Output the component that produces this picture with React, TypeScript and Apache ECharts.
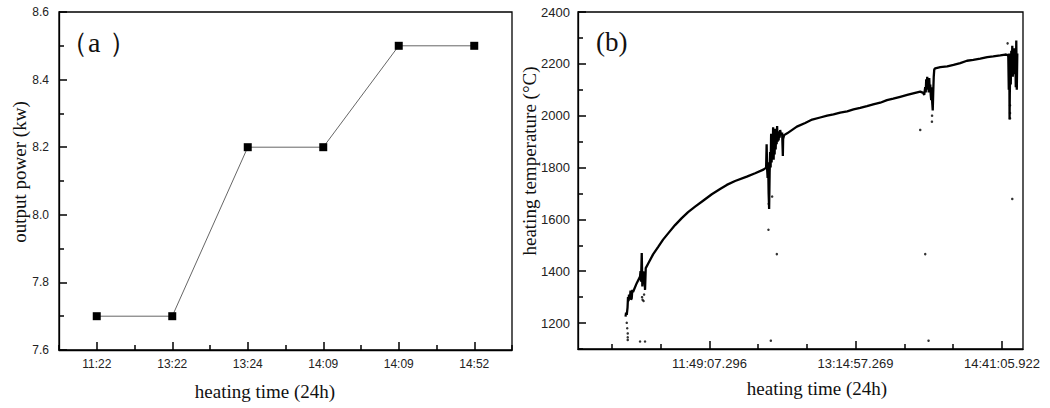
import React, { useEffect, useRef } from "react";
import * as echarts from "echarts";

// ---- panel (a): output power ----
const powerTimes = ["11:22", "13:22", "13:24", "14:09", "14:09", "14:52"];
const powerValues = [7.7, 7.7, 8.2, 8.2, 8.5, 8.5];

// ---- panel (b): heating temperature, time in seconds since midnight ----
const tempTimes = [
  39591, 39609, 39633, 39661, 39678, 39696, 39714, 39749, 39767, 39784, 39809, 39830, 39855, 39985,
  40102, 40120, 40137, 40162, 40183, 40208, 40226, 40254, 40278, 40303, 40395, 40561, 40748, 40914,
  41101, 41337, 41573, 41796, 42043, 42325, 42632, 42925, 43161, 43454, 43867, 44160, 44453, 44548,
  44566, 44584, 44601, 44619, 44637, 44654, 44672, 44689, 44707, 44725, 44742, 44760, 44778, 44795,
  44813, 44831, 44848, 44866, 44884, 44901, 44919, 44936, 44954, 44972, 44989, 45007, 45025, 45042,
  45078, 45113, 45138, 45148, 45183,
  45290, 45632, 45925, 46172, 46454, 46701, 46924, 47160, 47407, 47630, 47866, 48103, 48325, 48572,
  48809, 49031, 49277, 49524, 49736, 49983, 50089, 50124,
  50159, 50177, 50194, 50212, 50230, 50247, 50265, 50283, 50300, 50318, 50336, 50353, 50371, 50389,
  50406, 50424, 50441, 50459, 50477, 50512,
  50689, 50936, 51158, 51394, 51631, 51853, 52100, 52347, 52558, 52806, 52982, 53053, 53088,
  53106, 53123, 53134, 53141, 53159, 53176, 53194, 53212, 53229, 53247, 53265, 53282, 53300, 53318,
  53335, 53353, 53370, 53388, 53406,
];
const tempValues = [
  1225, 1240, 1232, 1260, 1300, 1285, 1310, 1300, 1325, 1290, 1296, 1328, 1320, 1354,
  1380, 1400, 1360, 1470, 1341, 1400, 1350, 1399, 1328, 1412, 1431, 1465, 1495, 1522,
  1547, 1578, 1605, 1628, 1649, 1672, 1697, 1717, 1733, 1748, 1765, 1778, 1792, 1800,
  1890, 1795, 1760, 1820, 1700, 1640, 1780, 1860, 1800, 1930, 1820, 1900, 1840, 1955,
  1830, 1920, 1850, 1950, 1870, 1930, 1890, 1960, 1900, 1940, 1905, 1935, 1915, 1945,
  1925, 1935, 1845, 1910, 1925,
  1932, 1958, 1972, 1985, 1993, 2000, 2005, 2012, 2017, 2024, 2030, 2037, 2044, 2050,
  2060, 2066, 2073, 2080, 2086, 2093, 2088, 2080,
  2110, 2090, 2140, 2100, 2150, 2110, 2130, 2090, 2145, 2100, 2120, 2080, 2060, 2110,
  2050, 2020, 2090, 2150, 2178, 2183,
  2187, 2190, 2196, 2203, 2212, 2215, 2220, 2226, 2229, 2233, 2236, 2235, 2230,
  2100, 2240, 1985, 2080, 2200, 2120, 2250, 2170, 2270, 2150, 2240, 2190, 2260, 2160,
  2250, 2110, 2290, 2100, 2240,
];
// isolated stray readings
const dotTimes = [
  39633, 39650, 39668, 39668, 39668, 40102, 40278, 40173, 40190, 40244, 40226, 44630, 44640,
  44926, 44714, 44760, 50159, 50276, 49983, 50395, 50400, 53229, 53064, 53150, 53150, 53150,
];
const dotValues = [
  1201, 1180, 1160, 1145, 1135, 1129, 1129, 1300, 1290, 1310, 1285, 1560, 1660,
  1466, 1132, 1688, 1466, 1132, 1945, 1977, 2000, 1679, 2279, 2040, 2010, 1990,
];

// axis tick values
const tempXMajor = [42547.296, 47697.269, 52865.922];
const tempXMinor = [39114, 40831, 44264, 45981, 49420, 51143];
const tempYMajor = [1200, 1400, 1600, 1800, 2000, 2200, 2400];
const tempYMinor = [1100, 1300, 1500, 1700, 1900, 2100, 2300];

const SANS = "'Liberation Sans', Arial, sans-serif";
const SERIF = "'Liberation Serif', 'Times New Roman', serif";
const TICK_COLOR = "#000";

function fmtTime(v: number): string {
  const ms = Math.round(v * 1000);
  const h = Math.floor(ms / 3600000);
  const m = Math.floor((ms % 3600000) / 60000);
  const s = (ms % 60000) / 1000;
  const pad = (n: number) => (n < 10 ? "0" : "") + n;
  const ss = s.toFixed(3);
  return `${h}:${pad(m)}:${s < 10 ? "0" + ss : ss}`;
}

const lineSt = () => ({ show: true, lineStyle: { color: "#000", width: 1.3 } });
const tickSt = () => ({ color: TICK_COLOR, width: 1.5 });
const hiddenAxis = (type: string, gridIndex: number, extra: any = {}) => ({
  type, gridIndex, show: true,
  axisLine: { show: false }, axisTick: { show: false }, axisLabel: { show: false }, splitLine: { show: false },
  ...extra,
});

function titleText(text: string, x: number, y: number, rotate: boolean): any {
  return {
    type: "text", x, y, rotation: rotate ? Math.PI / 2 : 0,
    style: {
      text, font: `19px ${SERIF}`, fill: "#111",
      textAlign: "center", textVerticalAlign: "middle", align: "center", verticalAlign: "middle",
    },
  };
}

function buildOption(): any {
  const tempData = tempTimes.map((t, i) => [t, tempValues[i]]);
  const dotData = dotTimes.map((t, i) => [t, dotValues[i]]);
  const gridA = { left: 59, top: 12, width: 453, height: 338 };
  const gridB = { left: 578, top: 12, width: 445, height: 337 };
  return {
    animation: false,
    backgroundColor: "#fff",
    grid: [
      { ...gridA, show: true, borderColor: "#000", borderWidth: 1.3 },
      { ...gridB, show: true, borderColor: "#000", borderWidth: 1.3 },
      { ...gridA, show: false },
      { ...gridB, show: false },
    ],
    xAxis: [
      {
        type: "category", gridIndex: 0, data: powerTimes, boundaryGap: true,
        axisLine: lineSt(),
        axisTick: { show: true, inside: true, length: 8, alignWithLabel: true, lineStyle: tickSt() },
        axisLabel: { fontFamily: SANS, fontSize: 12, color: "#222", margin: 8 },
        splitLine: { show: false },
      },
      {
        type: "value", gridIndex: 1, min: 37914, max: 53607,
        axisLine: lineSt(),
        axisTick: { show: true, inside: true, length: 8, customValues: tempXMajor, lineStyle: tickSt() },
        axisLabel: { customValues: tempXMajor, formatter: fmtTime, fontFamily: SANS, fontSize: 13, color: "#222", margin: 8 },
        splitLine: { show: false },
      },
      {
        type: "category", gridIndex: 2, data: powerTimes, boundaryGap: true,
        axisLine: { show: false },
        axisTick: { show: true, inside: true, length: 5, lineStyle: tickSt() },
        axisLabel: { show: false }, splitLine: { show: false },
      },
      {
        type: "value", gridIndex: 3, min: 37914, max: 53607,
        axisLine: { show: false },
        axisTick: { show: true, inside: true, length: 5, customValues: tempXMinor, lineStyle: tickSt() },
        axisLabel: { show: false }, splitLine: { show: false },
      },
    ],
    yAxis: [
      {
        type: "value", gridIndex: 0, min: 7.6, max: 8.6, interval: 0.2,
        axisLine: lineSt(),
        axisTick: { show: true, inside: true, length: 8, lineStyle: tickSt() },
        minorTick: { show: true, splitNumber: 2, length: 5, lineStyle: tickSt() },
        axisLabel: { formatter: (v: number) => v.toFixed(1), fontFamily: SANS, fontSize: 12, color: "#222", margin: 10 },
        splitLine: { show: false },
      },
      {
        type: "value", gridIndex: 1, min: 1100, max: 2400,
        axisLine: lineSt(),
        axisTick: { show: true, inside: true, length: 8, customValues: tempYMajor, lineStyle: tickSt() },
        axisLabel: { customValues: tempYMajor, formatter: (v: number) => String(v), fontFamily: SANS, fontSize: 13, color: "#222", margin: 8 },
        splitLine: { show: false },
      },
      hiddenAxis("value", 2, { min: 7.6, max: 8.6 }),
      {
        type: "value", gridIndex: 3, min: 1100, max: 2400,
        axisLine: { show: false },
        axisTick: { show: true, inside: true, length: 5, customValues: tempYMinor, lineStyle: tickSt() },
        axisLabel: { show: false }, splitLine: { show: false },
      },
    ],
    series: [
      {
        type: "line", xAxisIndex: 0, yAxisIndex: 0, data: powerValues,
        symbol: "rect", symbolSize: 8, itemStyle: { color: "#000" },
        lineStyle: { color: "#666", width: 1 }, z: 3,
      },
      {
        type: "line", xAxisIndex: 1, yAxisIndex: 1, data: tempData,
        showSymbol: false, symbol: "none", lineStyle: { color: "#000", width: 2.3 },
      },
      {
        type: "scatter", xAxisIndex: 1, yAxisIndex: 1, data: dotData,
        symbolSize: 2.5, itemStyle: { color: "#000" },
      },
    ],
    graphic: [
      {
        type: "text", x: 60, y: 42,
        style: {
          text: "{p|（}{a|a}{p|）}",
          rich: {
            p: { fontFamily: SERIF, fontSize: 28, fill: "#111", color: "#111" },
            a: { fontFamily: SERIF, fontSize: 28, fill: "#111", color: "#111", padding: [0, 9, 0, 0] },
          },
          textAlign: "left", textVerticalAlign: "middle", align: "left", verticalAlign: "middle",
        },
      },
      {
        type: "text", x: 596, y: 42,
        style: { text: "(b)", font: `27px ${SERIF}`, fill: "#111", textAlign: "left", textVerticalAlign: "middle", align: "left", verticalAlign: "middle" },
      },
      titleText("output power (kw)", 19, 172, true),
      titleText("heating time (24h)", 265, 391, false),
      titleText("heating temperature (°C)", 529, 161, true),
      titleText("heating time (24h)", 817, 388, false),
    ],
  };
}

export default function App() {
  const ref = useRef<HTMLDivElement>(null);
  useEffect(() => {
    if (!ref.current) return;
    const chart = echarts.init(ref.current, null, { renderer: "svg" });
    chart.setOption(buildOption());
    return () => chart.dispose();
  }, []);
  return (
    <div
      ref={ref}
      style={{ position: "fixed", left: 0, top: 0, width: 1050, height: 408, background: "#fff" }}
    />
  );
}
